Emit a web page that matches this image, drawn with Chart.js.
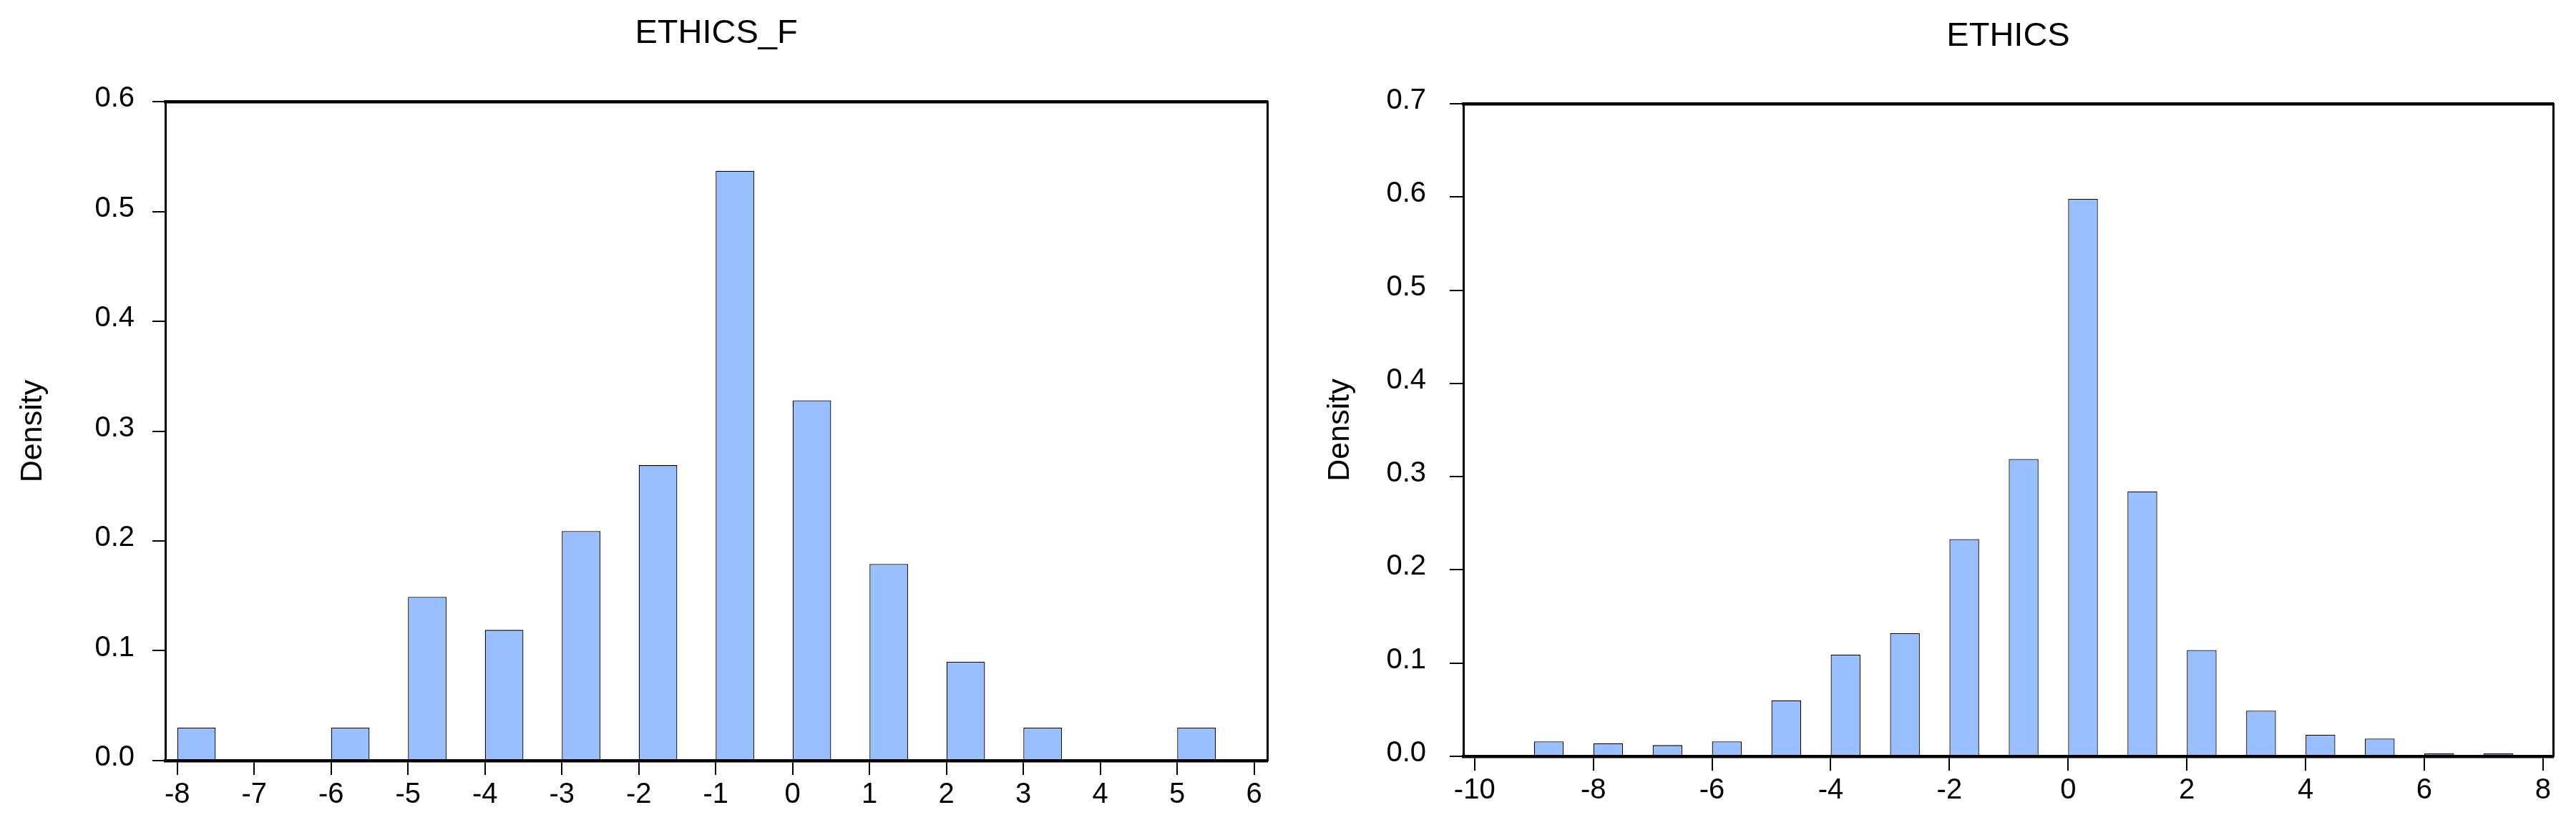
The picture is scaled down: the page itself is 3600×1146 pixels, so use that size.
<!DOCTYPE html>
<html>
<head>
<meta charset="utf-8">
<script src="https://cdn.jsdelivr.net/npm/chart.js@4.4.1/dist/chart.umd.min.js"></script>
<style>
  html, body { margin: 0; padding: 0; background: #fff; }
  .wrap { display: flex; width: 3600px; height: 1146px; }
  canvas { display: block; }
</style>
</head>
<body>
<div class="wrap">
  <canvas id="ethicsF" width="1800" height="1146"></canvas>
  <canvas id="ethics" width="1800" height="1146"></canvas>
</div>
<script>
// ETHICS_F: left edge of each bin (bin width 0.5) and density
const binWidth = 0.5;
const ethicsFBins = [-8, -7, -6, -5, -4, -3, -2, -1, 0, 1, 2, 3, 4, 5];
const ethicsFDensity = [0.030, 0, 0.030, 0.149, 0.119, 0.209, 0.269, 0.537, 0.328, 0.179, 0.090, 0.030, 0, 0.030];
const ethicsFXTicks = [-8, -7, -6, -5, -4, -3, -2, -1, 0, 1, 2, 3, 4, 5, 6];
const ethicsFYTicks = [0, 0.1, 0.2, 0.3, 0.4, 0.5, 0.6];

// ETHICS
const ethicsBins = [-9, -8, -7, -6, -5, -4, -3, -2, -1, 0, 1, 2, 3, 4, 5, 6, 7];
const ethicsDensity = [0.016, 0.014, 0.012, 0.016, 0.060, 0.109, 0.132, 0.233, 0.319, 0.598, 0.284, 0.114, 0.049, 0.023, 0.019, 0.003, 0.003];
const ethicsXTicks = [-10, -8, -6, -4, -2, 0, 2, 4, 6, 8];
const ethicsYTicks = [0, 0.1, 0.2, 0.3, 0.4, 0.5, 0.6, 0.7];

Chart.defaults.font.family = "'Liberation Sans', Arial, sans-serif";
Chart.defaults.color = '#000';
Chart.defaults.animation = false;

const barFill = 'rgb(153,191,255)';

function histogram(id, cfg) {
    const points = cfg.bins.map((b, i) => ({ x: b + binWidth / 2, y: cfg.density[i] }));
    return new Chart(document.getElementById(id), {
        type: 'bar',
        data: {
            datasets: [{
                data: points,
                backgroundColor: barFill,
                borderColor: '#000',
                borderWidth: 1.3,
                categoryPercentage: 1,
                barPercentage: 0.5
            }]
        },
        options: {
            responsive: false,
            layout: { padding: { left: 0, right: cfg.rightPad, top: 0, bottom: 0 } },
            plugins: {
                legend: { display: false },
                tooltip: { enabled: false },
                title: {
                    display: true,
                    text: cfg.title,
                    fullSize: false,
                    font: { size: 47, weight: 'normal' },
                    padding: { top: cfg.titleTop, bottom: cfg.titleBottom }
                }
            },
            scales: {
                x: {
                    type: 'linear',
                    position: 'bottom',
                    min: cfg.xMin,
                    max: cfg.xMax,
                    offset: false,
                    afterBuildTicks: s => { s.ticks = cfg.xTicks.map(v => ({ value: v })); },
                    afterFit: s => { s.height = cfg.xHeight; },
                    ticks: { font: { size: 40 }, padding: 4, maxRotation: 0, autoSkip: false },
                    grid: { drawOnChartArea: false, offset: false, tickLength: 20, lineWidth: 2, color: '#000' },
                    border: { display: true, color: '#000', width: 4.5, z: 1 }
                },
                y: {
                    type: 'linear',
                    position: 'left',
                    min: 0,
                    max: cfg.yMax,
                    afterBuildTicks: s => { s.ticks = cfg.yTicks.map(v => ({ value: v })); },
                    afterFit: s => { s.width = cfg.yWidth; },
                    ticks: {
                        font: { size: 40 },
                        padding: cfg.yLabelPad,
                        labelOffset: -4,
                        callback: v => Number(v).toFixed(1)
                    },
                    grid: { drawOnChartArea: false, tickLength: cfg.yTickLen, lineWidth: 2, color: '#000' },
                    border: { display: true, color: '#000', width: 3, z: 1 },
                    title: {
                        display: true,
                        text: 'Density',
                        font: { size: 43 },
                        padding: { top: cfg.yTitlePad, bottom: 0 }
                    }
                },
                xTop: {
                    type: 'linear',
                    position: 'top',
                    ticks: { display: false },
                    grid: { display: false },
                    afterFit: s => { s.height = 0; },
                    border: { display: true, color: '#000', width: 4.5, z: 1 }
                },
                yRight: {
                    type: 'linear',
                    position: 'right',
                    ticks: { display: false },
                    grid: { display: false },
                    afterFit: s => { s.width = 0; },
                    border: { display: true, color: '#000', width: 3, z: 1 }
                }
            }
        }
    });
}

histogram('ethicsF', {
    title: 'ETHICS_F',
    bins: ethicsFBins, density: ethicsFDensity,
    xTicks: ethicsFXTicks, yTicks: ethicsFYTicks,
    xMin: -8.155, xMax: 6.17, yMax: 0.6,
    rightPad: 29, xHeight: 83, yWidth: 231,
    titleTop: 19, titleBottom: 66.6,
    yLabelPad: 25, yTickLen: 18, yTitlePad: 20
});

histogram('ethics', {
    title: 'ETHICS',
    bins: ethicsBins, density: ethicsDensity,
    xTicks: ethicsXTicks, yTicks: ethicsYTicks,
    xMin: -10.19, xMax: 8.17, yMax: 0.7,
    rightPad: 32, xHeight: 89, yWidth: 245,
    titleTop: 23, titleBottom: 65.6,
    yLabelPad: 33, yTickLen: 19, yTitlePad: 47
});
</script>
</body>
</html>
